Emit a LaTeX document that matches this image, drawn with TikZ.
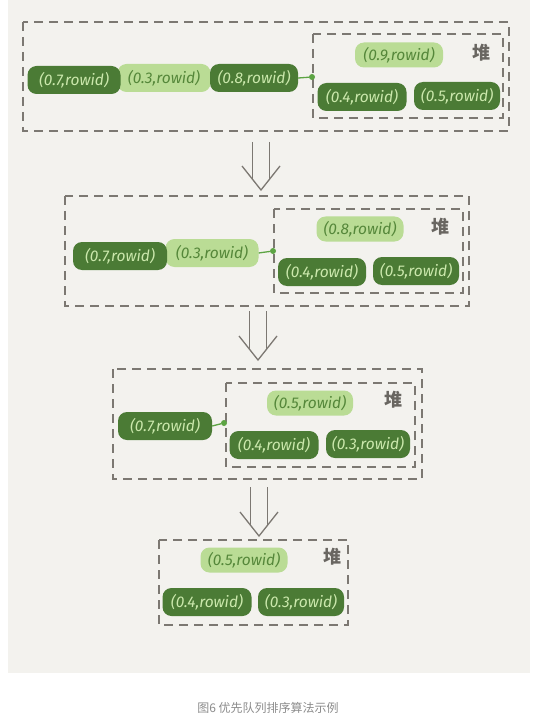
\documentclass[tikz,border=0pt]{standalone}
\usepackage{fontspec}
\setmainfont{Fira Sans}
\newfontfamily\cjk{Noto Sans CJK SC}
\definecolor{bgbeige}{HTML}{F3F2EE}
\definecolor{dkgreen}{HTML}{4B7B35}
\definecolor{ltgreen}{HTML}{BADC95}
\definecolor{dktext}{HTML}{CBE8AC}
\definecolor{lttext}{HTML}{55873A}
\definecolor{dashgray}{HTML}{7C7872}
\definecolor{conngreen}{HTML}{5CA443}
\definecolor{capgray}{HTML}{8C8C8C}
\begin{document}
\begin{tikzpicture}[x=1pt,y=-1pt,
  darkrec/.style={fill=dkgreen,text=dktext,rounded corners=9pt,minimum height=28pt,inner sep=0pt,font=\fontsize{15.5}{15.5}\selectfont\itshape},
  lightrec/.style={fill=ltgreen,text=lttext,rounded corners=9pt,minimum height=28pt,inner sep=0pt,font=\fontsize{15.5}{15.5}\selectfont\itshape},
  dashbox/.style={draw=dashgray,line width=1.2pt,dash pattern=on 9pt off 6pt},
  heaplbl/.style={text=dashgray!85!black,font=\cjk\bfseries\fontsize{18}{18}\selectfont},
  conn/.style={draw=conngreen,line width=1.3pt},
  dotc/.style={circle,fill=conngreen,inner sep=0pt,minimum size=6pt},
  dblarrow/.style={draw=dashgray,line width=1.3pt}]
\useasboundingbox (0,0) rectangle (558,719);
\fill[white] (0,0) rectangle (558,719);
\fill[bgbeige] (8,0) rectangle (530,673);

% ---------- Stage 1
\draw[dashbox] (23,22) rectangle (509,131);
\draw[dashbox] (313,34) rectangle (503,118);
\node[lightrec,minimum width=93pt] (s1b) at (164,78) {(0.3,rowid)};
\node[darkrec,minimum width=93pt] (s1a) at (74,80) {(0.7,rowid)};
\node[darkrec,minimum width=88pt] (s1c) at (254,78) {(0.8,rowid)};
\node[dotc] (s1d) at (312,77) {};
\draw[conn] (s1c.east) -- (s1d);
\node[lightrec,minimum width=88pt,minimum height=25pt] (s1h1) at (399,55) {(0.9,rowid)};
\node[heaplbl] (s1k) at (481,53) {堆};
\node[darkrec,minimum width=89pt] (s1h2) at (362,97) {(0.4,rowid)};
\node[darkrec,minimum width=86pt] (s1h3) at (457,96) {(0.5,rowid)};

% arrow 1
\coordinate (a1t) at (261,142);
\coordinate (a1p) at (261,190);
\draw[dblarrow] ([xshift=-8.5pt]a1t) -- ([xshift=-8.5pt,yshift=11pt]a1p);
\draw[dblarrow] ([xshift=8.5pt]a1t) -- ([xshift=8.5pt,yshift=11pt]a1p);
\draw[dblarrow] ([xshift=-19pt,yshift=24pt]a1p) -- (a1p) -- ([xshift=19pt,yshift=24pt]a1p);

% ---------- Stage 2
\draw[dashbox] (65,196) rectangle (469,306);
\draw[dashbox] (274,209) rectangle (463,293);
\node[lightrec,minimum width=93pt] (s2b) at (212,253) {(0.3,rowid)};
\node[darkrec,minimum width=94pt] (s2a) at (120,256) {(0.7,rowid)};
\node[dotc] (s2d) at (273,251) {};
\draw[conn] (s2b.east) -- (s2d);
\node[lightrec,minimum width=87pt,minimum height=25pt] (s2h1) at (360,229) {(0.8,rowid)};
\node[heaplbl] (s2k) at (440,227) {堆};
\node[darkrec,minimum width=88pt] (s2h2) at (322,272) {(0.4,rowid)};
\node[darkrec,minimum width=86pt] (s2h3) at (416,271) {(0.5,rowid)};

% arrow 2
\coordinate (a2t) at (258,311);
\coordinate (a2p) at (258,360);
\draw[dblarrow] ([xshift=-8.5pt]a2t) -- ([xshift=-8.5pt,yshift=11pt]a2p);
\draw[dblarrow] ([xshift=8.5pt]a2t) -- ([xshift=8.5pt,yshift=11pt]a2p);
\draw[dblarrow] ([xshift=-19pt,yshift=24pt]a2p) -- (a2p) -- ([xshift=19pt,yshift=24pt]a2p);

% ---------- Stage 3
\draw[dashbox] (113,369) rectangle (422,479);
\draw[dashbox] (226,383) rectangle (415,467);
\node[darkrec,minimum width=94pt] (s3a) at (165,426) {(0.7,rowid)};
\node[dotc] (s3d) at (224,423) {};
\draw[conn] (s3a.east) -- (s3d);
\node[lightrec,minimum width=86pt,minimum height=25pt] (s3h1) at (310,403) {(0.5,rowid)};
\node[heaplbl] (s3k) at (393,400) {堆};
\node[darkrec,minimum width=89pt] (s3h2) at (274,445) {(0.4,rowid)};
\node[darkrec,minimum width=84pt] (s3h3) at (368,444) {(0.3,rowid)};

% arrow 3
\coordinate (a3t) at (259,487);
\coordinate (a3p) at (259,536);
\draw[dblarrow] ([xshift=-8.5pt]a3t) -- ([xshift=-8.5pt,yshift=11pt]a3p);
\draw[dblarrow] ([xshift=8.5pt]a3t) -- ([xshift=8.5pt,yshift=11pt]a3p);
\draw[dblarrow] ([xshift=-19pt,yshift=24pt]a3p) -- (a3p) -- ([xshift=19pt,yshift=24pt]a3p);

% ---------- Stage 4
\draw[dashbox] (159,540) rectangle (348,625);
\node[lightrec,minimum width=87pt,minimum height=25pt] (s4h1) at (244,560) {(0.5,rowid)};
\node[heaplbl] (s4k) at (332,557) {堆};
\node[darkrec,minimum width=89pt] (s4h2) at (207,602) {(0.4,rowid)};
\node[darkrec,minimum width=86pt] (s4h3) at (301,602) {(0.3,rowid)};

% caption
\node[text=capgray,font=\cjk\fontsize{12}{12}\selectfont] (cap) at (268,708) {图6 优先队列排序算法示例};
\end{tikzpicture}
\end{document}
